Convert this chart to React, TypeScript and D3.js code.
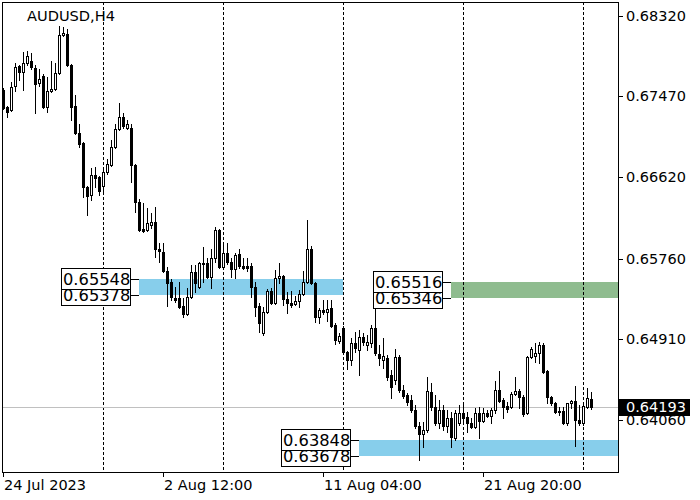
import * as d3 from 'd3';

// H4 bars, 24 Jul 2023 20:00 onwards
const opens = [
  0.67535, 0.67356, 0.67324, 0.67577, 0.67788, 0.67724, 0.67819, 0.6784, 0.67767, 0.67609,
  0.67682, 0.67356, 0.67524, 0.67545, 0.67714, 0.68114, 0.68125, 0.67798, 0.67366, 0.67082,
  0.66976, 0.66513, 0.66429, 0.66639, 0.66618, 0.66523, 0.66671, 0.66745, 0.66934, 0.67124,
  0.6725, 0.67135, 0.67135, 0.66745, 0.66355, 0.6607, 0.6606, 0.66113, 0.66144, 0.6586,
  0.65828, 0.65628, 0.65512, 0.65344, 0.65344, 0.65259, 0.65175, 0.65354, 0.65617, 0.65459,
  0.65702, 0.65712, 0.65565, 0.65765, 0.6606, 0.6567, 0.65818, 0.65723, 0.65649, 0.65807,
  0.65681, 0.65681, 0.65681, 0.65459, 0.65259, 0.64975, 0.65196, 0.65417, 0.65291, 0.65554,
  0.65575, 0.65333, 0.65291, 0.6528, 0.65312, 0.65386, 0.65512, 0.6586, 0.65502, 0.65143,
  0.65217, 0.65196, 0.65238, 0.65059, 0.64891, 0.65028, 0.64775, 0.6469, 0.64869, 0.64796,
  0.64933, 0.64848, 0.64869, 0.65028, 0.64754, 0.6469, 0.64711, 0.64532, 0.6448, 0.64722,
  0.64374, 0.64322, 0.64269, 0.64164, 0.63995, 0.63911, 0.63953, 0.64353, 0.64195, 0.64027,
  0.64164, 0.63995, 0.64079, 0.63869, 0.64027, 0.64132, 0.6409, 0.64027, 0.63985, 0.64132,
  0.64048, 0.64132, 0.641, 0.64164, 0.64374, 0.64269, 0.64206, 0.64195, 0.64332, 0.64364,
  0.64301, 0.64132, 0.64722, 0.64733, 0.64764, 0.64848, 0.64574, 0.64301, 0.64237, 0.64143,
  0.64153, 0.64027, 0.64237, 0.64258, 0.64058, 0.64027, 0.64195, 0.6428,
];
const highs = [
  0.67556, 0.67366, 0.67619, 0.67819, 0.67798, 0.67935, 0.67946, 0.67925, 0.67798, 0.67756,
  0.67703, 0.67672, 0.6784, 0.67819, 0.68209, 0.68199, 0.68177, 0.67809, 0.67482, 0.67177,
  0.66987, 0.66523, 0.66713, 0.66724, 0.66629, 0.66713, 0.66808, 0.67008, 0.67177, 0.67398,
  0.67293, 0.67219, 0.67177, 0.66755, 0.66387, 0.66344, 0.66292, 0.66239, 0.66302, 0.65923,
  0.65923, 0.6567, 0.65544, 0.65459, 0.65512, 0.65344, 0.65449, 0.65691, 0.65691, 0.65723,
  0.65881, 0.65765, 0.6586, 0.66092, 0.6607, 0.65923, 0.65923, 0.65765, 0.65818, 0.6586,
  0.65765, 0.65765, 0.65712, 0.65512, 0.65291, 0.65249, 0.65438, 0.65449, 0.65639, 0.65712,
  0.65586, 0.65407, 0.65417, 0.65365, 0.65428, 0.65628, 0.66165, 0.65891, 0.65512, 0.65238,
  0.65322, 0.65322, 0.65322, 0.6508, 0.64975, 0.65049, 0.64785, 0.64922, 0.64985, 0.65006,
  0.64975, 0.64954, 0.65059, 0.65259, 0.64848, 0.64922, 0.64743, 0.64585, 0.64806, 0.64743,
  0.64427, 0.64343, 0.64322, 0.64216, 0.64037, 0.64037, 0.64511, 0.64448, 0.64322, 0.64269,
  0.64216, 0.64164, 0.64143, 0.64164, 0.64216, 0.64227, 0.64143, 0.64079, 0.64185, 0.64195,
  0.64185, 0.64164, 0.64185, 0.64469, 0.64574, 0.6429, 0.64248, 0.64353, 0.64511, 0.64385,
  0.64322, 0.64733, 0.64827, 0.64869, 0.6488, 0.64869, 0.64585, 0.64311, 0.64248, 0.64195,
  0.64195, 0.64237, 0.64269, 0.64416, 0.64216, 0.64216, 0.64395, 0.64353,
];
const lows = [
  0.67335, 0.6725, 0.67314, 0.67524, 0.6764, 0.67535, 0.67798, 0.67756, 0.67293, 0.67577,
  0.67345, 0.67303, 0.67514, 0.67535, 0.67703, 0.68104, 0.67788, 0.67219, 0.67071, 0.66934,
  0.66408, 0.66218, 0.66376, 0.66513, 0.66429, 0.6645, 0.6665, 0.66734, 0.66924, 0.67113,
  0.67135, 0.67124, 0.66566, 0.6625, 0.66049, 0.66039, 0.66049, 0.66081, 0.65775, 0.65723,
  0.65617, 0.65259, 0.65322, 0.65301, 0.65238, 0.65143, 0.65164, 0.65344, 0.65407, 0.65449,
  0.65512, 0.65554, 0.65449, 0.65723, 0.6566, 0.6566, 0.65702, 0.65565, 0.65554, 0.6566,
  0.65649, 0.65628, 0.65354, 0.65154, 0.64985, 0.64954, 0.65186, 0.6528, 0.6528, 0.65502,
  0.6527, 0.65186, 0.65249, 0.6527, 0.65249, 0.65375, 0.65502, 0.65491, 0.65091, 0.6508,
  0.65175, 0.65101, 0.65038, 0.64859, 0.64869, 0.64754, 0.64596, 0.64638, 0.64775, 0.64532,
  0.64848, 0.64796, 0.64827, 0.64743, 0.64638, 0.64606, 0.6448, 0.6429, 0.64438, 0.64353,
  0.6429, 0.64216, 0.64143, 0.63974, 0.63637, 0.63774, 0.63932, 0.64164, 0.64006, 0.63974,
  0.63953, 0.63932, 0.63774, 0.63848, 0.64006, 0.64037, 0.63932, 0.63974, 0.63974, 0.63869,
  0.64037, 0.6409, 0.64027, 0.64132, 0.64248, 0.64079, 0.64143, 0.64185, 0.64322, 0.64185,
  0.641, 0.64122, 0.64711, 0.64669, 0.64659, 0.64553, 0.64237, 0.64216, 0.64132, 0.64111,
  0.64016, 0.64006, 0.64185, 0.63784, 0.64006, 0.64006, 0.64185, 0.64174,
];
const closes = [
  0.67345, 0.67303, 0.67566, 0.67777, 0.67724, 0.67819, 0.67893, 0.67777, 0.67598, 0.67651,
  0.67356, 0.67524, 0.67545, 0.67714, 0.68114, 0.68135, 0.67798, 0.67356, 0.67082, 0.66966,
  0.66513, 0.66418, 0.66639, 0.66608, 0.66471, 0.66671, 0.66755, 0.66934, 0.67124, 0.6725,
  0.67156, 0.67177, 0.66745, 0.66355, 0.6606, 0.66049, 0.66134, 0.66144, 0.6586, 0.65839,
  0.65628, 0.65502, 0.65354, 0.65322, 0.65249, 0.65175, 0.65354, 0.65617, 0.65502, 0.65712,
  0.65712, 0.65565, 0.65765, 0.6606, 0.6567, 0.65818, 0.65723, 0.65649, 0.65797, 0.65681,
  0.6566, 0.6566, 0.65459, 0.65249, 0.6508, 0.65196, 0.65417, 0.65291, 0.65554, 0.65575,
  0.65333, 0.65291, 0.6527, 0.65312, 0.65386, 0.65512, 0.6586, 0.65502, 0.65143, 0.65217,
  0.65196, 0.65228, 0.65049, 0.64901, 0.64943, 0.64775, 0.6469, 0.64869, 0.64817, 0.64933,
  0.6488, 0.6488, 0.65028, 0.64764, 0.64711, 0.64733, 0.64511, 0.64406, 0.64722, 0.64374,
  0.64311, 0.64248, 0.64164, 0.63995, 0.63911, 0.63953, 0.64364, 0.64195, 0.64027, 0.64164,
  0.63995, 0.64079, 0.63879, 0.64132, 0.64132, 0.64079, 0.64027, 0.63985, 0.64132, 0.64048,
  0.64132, 0.641, 0.64164, 0.64374, 0.64258, 0.64195, 0.64174, 0.64332, 0.64364, 0.64301,
  0.64122, 0.64722, 0.64806, 0.64764, 0.64848, 0.64564, 0.64301, 0.64237, 0.64143, 0.64153,
  0.64027, 0.64237, 0.64258, 0.64058, 0.64027, 0.64206, 0.6429, 0.64193,
];

const title = 'AUDUSD,H4';
const priceTicks = [0.6832, 0.6747, 0.6662, 0.6576, 0.6491, 0.6406];
const timeTickBars = [0, 40, 80, 120];
const timeTickLabels = ['24 Jul 2023', '2 Aug 12:00', '11 Aug 04:00', '21 Aug 20:00'];
const weekSeparatorBars = [25, 55, 85, 115, 145];
const bidPrice = 0.64193;

// support / resistance zones
const zoneTops = [0.65548, 0.65516, 0.63848];
const zoneBottoms = [0.65378, 0.65346, 0.63678];
const zoneStartBars = [34, 112, 89];
const zoneEndBars = [85, null, null];
const zoneColors = ['#87ceeb', '#8fbc8f', '#87ceeb'];

const FONT = "'DejaVu Sans', Verdana, sans-serif";

export default function App() {
  const W = 700;
  const H = 500;
  const left = 2, right = 618, top = 2, bottom = 472;

  const x = d3.scaleLinear().domain([0, closes.length - 1]).range([3, 3 + 4 * (closes.length - 1)]);
  const y = d3.scaleLinear().domain([0.6832, 0.63848]).range([15.5, 440]);
  const fmt = d3.format('.5f');
  const py = (p: number) => Math.round(y(p));

  const candles = closes.map((c, i) => {
    const o = opens[i];
    const cx = Math.round(x(i));
    const yH = py(highs[i]);
    const yL = py(lows[i]);
    const yT = py(Math.max(o, c));
    const yB = py(Math.min(o, c));
    const bull = c > o;
    return (
      <g key={i}>
        <rect x={cx} y={yH} width={1} height={yL - yH + 1} fill="#000" />
        {bull && yB > yT ? (
          <rect x={cx - 0.5} y={yT + 0.5} width={2} height={yB - yT} fill="#fff" stroke="#000" strokeWidth={1} />
        ) : (
          <rect x={cx - 1} y={yT} width={3} height={yB - yT + 1} fill="#000" />
        )}
      </g>
    );
  });

  const zones = zoneTops.map((t, k) => {
    const x0 = Math.round(x(zoneStartBars[k]));
    const endBar = zoneEndBars[k];
    const x1 = endBar == null ? right : Math.round(x(endBar));
    return <rect key={k} x={x0} y={y(t)} width={x1 - x0} height={y(zoneBottoms[k]) - y(t)} fill={zoneColors[k]} />;
  });

  // price labels hooked to the left end of each zone
  const zoneLabels = zoneTops.map((t, k) => {
    const x0 = Math.round(x(zoneStartBars[k]));
    const bx = x0 - 9 - 69;
    const prices = [zoneBottoms[k], t];
    return (
      <g key={k}>
        {prices.map((p) => {
          const yc = py(p);
          return (
            <g key={p}>
              <line x1={bx + 69} x2={x0} y1={yc + 0.5} y2={yc + 0.5} stroke="#000" />
              <rect x={bx + 0.5} y={yc - 10.5} width={69} height={21} fill="#fff" stroke="#000" />
              <text x={bx + 2} y={yc + 6} fontSize={16.3} fontFamily={FONT} fill="#000">{fmt(p)}</text>
            </g>
          );
        })}
      </g>
    );
  });

  const bidY = py(bidPrice);

  return (
    <svg width={W} height={H} style={{ position: 'absolute', left: 0, top: 0, display: 'block' }} shapeRendering="crispEdges">
      <defs>
        <clipPath id="plot">
          <rect x={left + 1} y={top + 1} width={right - left - 1} height={bottom - top - 1} />
        </clipPath>
      </defs>
      <rect x={0} y={0} width={W} height={H} fill="#fff" />
      <g clipPath="url(#plot)">
        {zones}
        {weekSeparatorBars.map((b) => (
          <line key={b} x1={Math.round(x(b)) + 0.5} x2={Math.round(x(b)) + 0.5} y1={top} y2={bottom}
            stroke="#000" strokeDasharray="3,2" />
        ))}
        <line x1={left} x2={right} y1={bidY + 0.5} y2={bidY + 0.5} stroke="#c0c0c0" />
        {candles}
        {zoneLabels}
      </g>
      <rect x={left + 0.5} y={top + 0.5} width={right - left} height={bottom - top} fill="none" stroke="#000" />

      <text x={27} y={20.5} fontSize={14.6} fontFamily={FONT} fill="#000">{title}</text>

      {priceTicks.map((p) => (
        <g key={p}>
          <line x1={right} x2={right + 5} y1={py(p) + 0.5} y2={py(p) + 0.5} stroke="#000" />
          <text x={626} y={y(p) + 5} fontSize={14.5} fontFamily={FONT} fill="#000">{fmt(p)}</text>
        </g>
      ))}
      <rect x={619} y={bidY - 8} width={71} height={17} fill="#000" />
      <text x={626} y={bidY + 5} fontSize={14.5} fontFamily={FONT} fill="#fff">{fmt(bidPrice)}</text>

      {timeTickBars.map((b, k) => {
        const tx = Math.round(x(b));
        return (
          <g key={b}>
            <line x1={tx + 0.5} x2={tx + 0.5} y1={bottom} y2={bottom + 5} stroke="#000" />
            <text x={tx + 1} y={490} fontSize={14.5} fontFamily={FONT} fill="#000">{timeTickLabels[k]}</text>
          </g>
        );
      })}
    </svg>
  );
}
